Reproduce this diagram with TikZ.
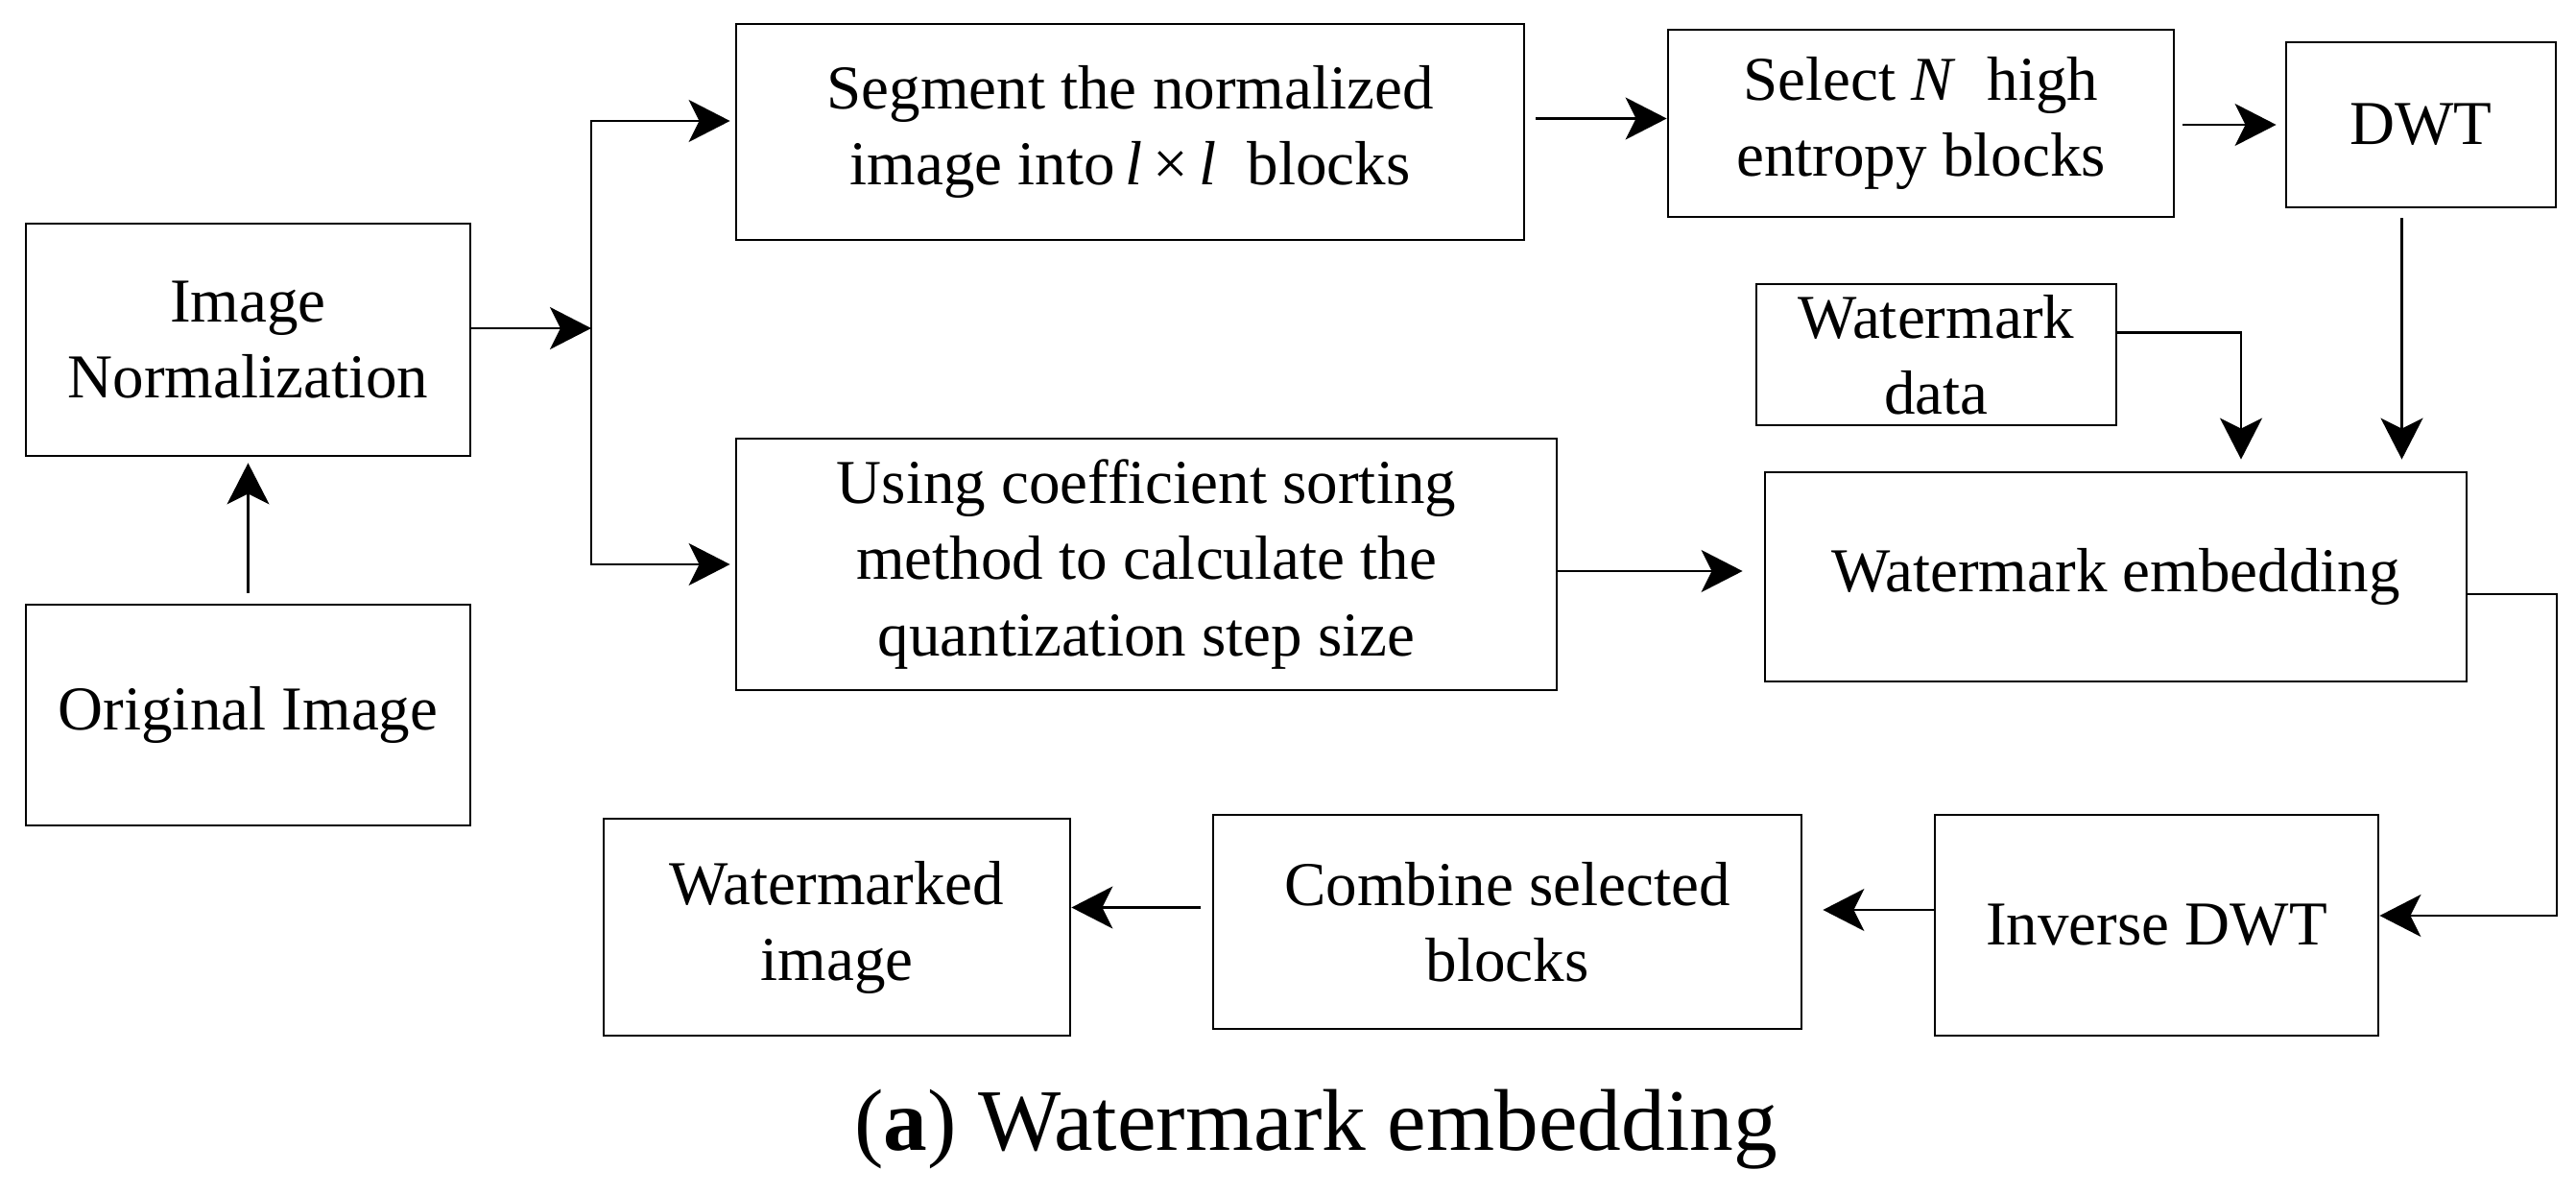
\documentclass[tikz,border=0pt]{standalone}
\usepackage{fontspec}
\setmainfont{Liberation Serif}
\usepackage{tikz}
\usetikzlibrary{arrows.meta}

\begin{document}
\begin{tikzpicture}[
		box/.style={draw, line width=0.8pt, align=center, inner sep=0pt, font=\fontsize{18.5}{22.5}\selectfont},
		conn/.style={line width=0.6pt, -{Stealth[length=4.3mm, width=4.4mm, inset=1.1mm]}}
	]
		\useasboundingbox (0,0) rectangle (26.84,-12.44);
		\node[box, minimum width=4.63cm, minimum height=2.42cm] (norm) at (2.585,-3.54) {Image\\Normalization};
		\node[box, minimum width=4.63cm, minimum height=2.30cm] (orig) at (2.585,-7.45) {Original Image};
		\node[box, minimum width=8.21cm, minimum height=2.25cm] (seg) at (11.775,-1.375) {Segment the normalized\\image into\,\textit{l}\,×\,\textit{l}\ \ blocks};
		\node[box, minimum width=5.27cm, minimum height=1.95cm] (sel) at (20.015,-1.285) {Select \textit{N}\ \ high\\entropy blocks};
		\node[box, minimum width=2.81cm, minimum height=1.72cm] (dwt) at (25.225,-1.30) {DWT};
		\node[box, minimum width=3.75cm, minimum height=1.47cm] (wmd) at (20.175,-3.695) {Watermark\\data};
		\node[box, minimum width=8.55cm, minimum height=2.62cm] (coef) at (11.945,-5.88) {Using coefficient sorting\\method to calculate the\\quantization step size};
		\node[box, minimum width=7.31cm, minimum height=2.18cm] (emb) at (22.045,-6.01) {Watermark embedding};
		\node[box, minimum width=4.62cm, minimum height=2.30cm] (inv) at (22.47,-9.64) {Inverse DWT};
		\node[box, minimum width=6.13cm, minimum height=2.23cm] (comb) at (15.705,-9.605) {Combine selected\\blocks};
		\node[box, minimum width=4.86cm, minimum height=2.26cm] (wmk) at (8.72,-9.66) {Watermarked\\image};
		\coordinate (J) at (6.16,-3.42);
		\coordinate (segin) at ([yshift=1.15mm]seg.west);
		%
		\path[conn]
		(orig) edge[shorten <=1.1mm, shorten >=0.6mm] (norm)
		(norm.east |- J) edge (J)
		([yshift=0.5mm]seg.east |- sel) edge[shorten <=1.1mm] ([yshift=0.5mm]sel.west)
		(sel.east |- dwt) edge[shorten <=0.8mm, shorten >=0.9mm] (dwt)
		([yshift=-0.7mm]coef.east) edge[shorten >=2.2mm] ([yshift=-0.7mm]coef.east -| emb.west)
		([yshift=1.6mm]inv.west) edge[shorten >=2.1mm] ([yshift=1.6mm]inv.west -| comb.east)
		([yshift=1.5mm]comb.west) edge[shorten <=1.2mm] ([yshift=1.5mm]comb.west -| wmk.east);
		\draw[line width=0.6pt] (J |- segin) -- (J |- coef);
		\draw[conn, shorten >=0.5mm] (J) |- (segin);
		\draw[conn, shorten >=0.5mm] (J) |- (coef.west);
		\draw[conn, shorten <=1mm, shorten >=1.2mm] ([xshift=-2mm]dwt.south) -- ([xshift=-2mm]dwt.south |- emb.north);
		\draw[conn, shorten >=1.2mm] ([yshift=2.3mm]wmd.east) -| ([xshift=13.05mm]emb.north);
		\draw[conn] ([yshift=-1.8mm]emb.east) -- ++(0.93,0) |- ([yshift=1mm]inv.east);
		%
		\node[font=\fontsize{26}{30}\selectfont, anchor=base] (cap) at (13.71,-11.98) {(\textbf{a}) Watermark embedding};
	\end{tikzpicture}
\end{document}
